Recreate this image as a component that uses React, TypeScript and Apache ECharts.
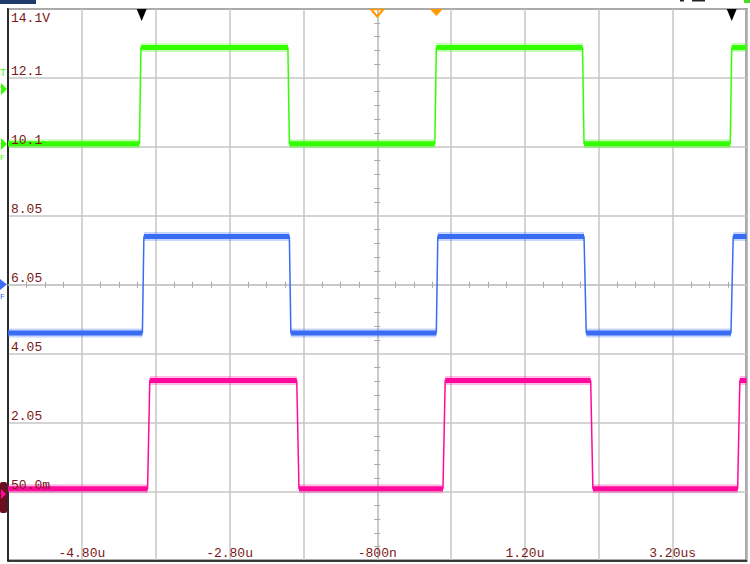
import React, { useEffect, useRef } from "react";
import * as echarts from "echarts";

// Horizontal scale: 1 µs per division, screen centre at -800 ns
const TIME_PER_DIV = 1; // µs
const TIME_CENTER = -0.8; // µs
// Vertical scale: 2 V per division, centre line at 6.05 V
const VOLT_PER_DIV = 2;
const VOLT_CENTER = 6.05;

const xTickLabels = ["", "-4.80u", "", "-2.80u", "", "-800n", "", "1.20u", "", "3.20us", ""];
const yTickLabels = ["", "50.0m", "2.05", "4.05", "6.05", "8.05", "10.1", "12.1", "14.1V"];

// Channel traces: time (µs) and voltage (V) at each corner of the waveform
const greenTime = [-5.8, -4.02, -4.0, -2.01, -1.99, -0.02, 0.0, 1.98, 2.0, 3.98, 4.0, 4.2];
const greenVolt = [10.14, 10.14, 12.93, 12.93, 10.14, 10.14, 12.93, 12.93, 10.14, 10.14, 12.93, 12.93];

const blueTime = [-5.8, -3.98, -3.96, -1.99, -1.97, 0.0, 0.02, 2.0, 2.03, 3.99, 4.02, 4.2];
const blueVolt = [4.65, 4.65, 7.45, 7.45, 4.65, 4.65, 7.45, 7.45, 4.65, 4.65, 7.45, 7.45];

const pinkTime = [-5.8, -3.91, -3.88, -1.89, -1.86, 0.09, 0.12, 2.09, 2.12, 4.08, 4.11, 4.2];
const pinkVolt = [0.13, 0.13, 3.27, 3.27, 0.13, 0.13, 3.27, 3.27, 0.13, 0.13, 3.27, 3.27];

// Markers along the top edge
const cursorTimes = [-3.99, 4.0]; // black ▼
const triggerTime = 0.0; // orange filled ▼
const referenceTime = -0.8; // orange hollow ▽

const GREEN = "#33ff00";
const BLUE = "#3a6cf4";
const PINK = "#ff0a9c";
const GRID = "#c6c6c6";
const LABEL = "#7a1818";
const FONT = "Liberation Mono, DejaVu Sans Mono, monospace";

const toX = (t: number) => (t - TIME_CENTER) / TIME_PER_DIV;
const toY = (v: number) => (v - VOLT_CENTER) / VOLT_PER_DIV;

function tracePoints(ts: number[], vs: number[]) {
  return ts.map((t, i) => [toX(t), toY(vs[i])]);
}

function plateauPoints(ts: number[], vs: number[]) {
  const out: any[] = [];
  for (let i = 0; i < ts.length - 1; i++) {
    if (vs[i] === vs[i + 1]) {
      out.push([toX(ts[i]), toY(vs[i])]);
      out.push([toX(ts[i + 1]), toY(vs[i + 1])]);
      out.push(null);
    }
  }
  return out;
}

function channelSeries(name: string, ts: number[], vs: number[], color: string, extra: any = {}) {
  return [
    {
      name: name + "-noise",
      type: "line",
      data: plateauPoints(ts, vs),
      showSymbol: false,
      connectNulls: false,
      lineStyle: { color, width: 9, opacity: 0.28, cap: "butt" },
      silent: true,
      z: 2,
    },
    {
      name: name + "-band",
      type: "line",
      data: plateauPoints(ts, vs),
      showSymbol: false,
      connectNulls: false,
      lineStyle: { color, width: 5, cap: "butt" },
      silent: true,
      z: 3,
    },
    {
      name,
      type: "line",
      data: tracePoints(ts, vs),
      showSymbol: false,
      lineStyle: { color, width: 1.5 },
      silent: true,
      z: 4,
      ...extra,
    },
  ];
}

const crossAxisBase = {
  type: "value",
  min: -5,
  max: 5,
  interval: 1,
  axisLabel: { show: false },
  splitLine: { show: false },
};

export default function App() {
  const ref = useRef<HTMLDivElement>(null);

  useEffect(() => {
    if (!ref.current) return;
    const chart = echarts.init(ref.current, null, { renderer: "svg" });

    const markers = {
      silent: true,
      label: { show: false },
      animation: false,
      data: [
        ...cursorTimes.map((t) => ({
          coord: [toX(t), 4],
          symbol: "triangle",
          symbolRotate: 180,
          symbolSize: [10, 12],
          symbolOffset: [0, 6],
          itemStyle: { color: "#000000" },
        })),
        {
          coord: [toX(triggerTime), 4],
          symbol: "path://M0,0 L13,0 L6.5,7 Z",
          symbolSize: [13, 7],
          symbolOffset: [0, 3.5],
          itemStyle: { color: "#ff9a00" },
        },
        {
          coord: [toX(referenceTime), 4],
          symbol: "path://M0,0 L13,0 L6.5,7 Z",
          symbolSize: [12, 7],
          symbolOffset: [0, 4],
          itemStyle: { color: "rgba(0,0,0,0)", borderColor: "#ff9a00", borderWidth: 2 },
        },
      ],
    };

    const option: any = {
      animation: false,
      backgroundColor: "#ffffff",
      grid: {
        left: 8,
        top: 9,
        right: 3.5,
        bottom: 3.5,
        containLabel: false,
        outerBoundsMode: "none",
        show: true,
        borderColor: "#5a5a5a",
        borderWidth: 2,
        backgroundColor: "#ffffff",
      },
      xAxis: [
        {
          type: "value",
          min: -5,
          max: 5,
          interval: 1,
          position: "bottom",
          axisLine: { show: true, onZero: false, lineStyle: { color: "#111111", width: 1.5 } },
          axisTick: { show: false },
          splitLine: { show: true, lineStyle: { color: GRID, width: 1.5 } },
          axisLabel: {
            show: true,
            inside: true,
            margin: 1,
            verticalAlign: "bottom",
            color: LABEL,
            fontFamily: FONT,
            fontSize: 13,
            formatter: (v: number) => xTickLabels[Math.round(v + 5)] ?? "",
          },
        },
        {
          ...crossAxisBase,
          position: "bottom",
          axisLine: { show: true, onZero: true, onZeroAxisIndex: 0, lineStyle: { color: GRID, width: 1.5 } },
          axisTick: { show: false, inside: false },
          minorTick: { show: true, splitNumber: 4, length: 3, lineStyle: { color: "#a8a8a8", width: 1 } },
        },
        {
          ...crossAxisBase,
          position: "bottom",
          axisLine: { show: false, onZero: true, onZeroAxisIndex: 0 },
          axisTick: { show: false, inside: true },
          minorTick: { show: true, splitNumber: 4, length: 3, lineStyle: { color: "#a8a8a8", width: 1 } },
        },
      ],
      yAxis: [
        {
          type: "value",
          min: -4,
          max: 4,
          interval: 1,
          position: "left",
          axisLine: { show: true, onZero: false, lineStyle: { color: "#000000", width: 1.5 } },
          axisTick: { show: false },
          axisLabel: { show: false },
          splitLine: { show: true, lineStyle: { color: GRID, width: 1.5 } },
        },
        {
          ...crossAxisBase,
          min: -4,
          max: 4,
          position: "left",
          axisLine: { show: true, onZero: true, onZeroAxisIndex: 0, lineStyle: { color: GRID, width: 1.5 } },
          axisTick: { show: false, inside: false },
          minorTick: { show: true, splitNumber: 5, length: 3, lineStyle: { color: "#a8a8a8", width: 1 } },
        },
        {
          ...crossAxisBase,
          min: -4,
          max: 4,
          position: "left",
          axisLine: { show: false, onZero: true, onZeroAxisIndex: 0 },
          axisTick: { show: false, inside: true },
          minorTick: { show: true, splitNumber: 5, length: 3, lineStyle: { color: "#a8a8a8", width: 1 } },
        },
        {
          type: "value",
          min: -4,
          max: 4,
          interval: 1,
          position: "left",
          z: 10,
          axisLine: { show: false, onZero: false },
          axisTick: { show: false },
          splitLine: { show: false },
          axisLabel: {
            show: true,
            inside: true,
            margin: 3,
            verticalAlign: "bottom",
            color: LABEL,
            fontFamily: FONT,
            fontSize: 13,
            formatter: (v: number) => {
              const i = Math.round(v + 4);
              return i >= yTickLabels.length - 1 ? "" : yTickLabels[i];
            },
          },
        },
        {
          type: "value",
          min: -4,
          max: 4,
          interval: 1,
          position: "left",
          z: 10,
          axisLine: { show: false, onZero: false },
          axisTick: { show: false },
          splitLine: { show: false },
          axisLabel: {
            show: true,
            inside: true,
            margin: 3,
            verticalAlign: "top",
            color: LABEL,
            fontFamily: FONT,
            fontSize: 13,
            padding: [3, 0, 0, 0],
            formatter: (v: number) => {
              const i = Math.round(v + 4);
              return i === yTickLabels.length - 1 ? yTickLabels[i] : "";
            },
          },
        },
      ],
      series: [
        ...channelSeries("CH1", greenTime, greenVolt, GREEN, { markPoint: markers }),
        ...channelSeries("CH2", blueTime, blueVolt, BLUE),
        ...channelSeries("CH3", pinkTime, pinkVolt, PINK),
      ],
      graphic: [
        { type: "rect", shape: { x: 0, y: 0, width: 36, height: 4 }, style: { fill: "#1d3c6c" } },
        { type: "rect", shape: { x: 680, y: 0, width: 4, height: 1.5 }, style: { fill: "#222" } },
        { type: "rect", shape: { x: 692, y: 0, width: 13, height: 1.5 }, style: { fill: "#222" } },
        { type: "rect", shape: { x: 744, y: 0, width: 6, height: 3 }, style: { fill: "#44dd22" } },
        // CH1 markers
        { type: "text", x: 0, y: 68, style: { text: "T", fill: GREEN, font: "10px " + FONT } },
        { type: "polygon", shape: { points: [[1, 83], [7, 89], [1, 95]] }, style: { fill: GREEN } },
        { type: "polygon", shape: { points: [[1, 138], [7, 144], [1, 150]] }, style: { fill: GREEN } },
        { type: "text", x: 0, y: 153, style: { text: "F", fill: GREEN, font: "8px " + FONT } },
        // CH2 marker
        { type: "polygon", shape: { points: [[0, 279], [7, 284.5], [0, 290]] }, style: { fill: BLUE } },
        { type: "text", x: 0, y: 292, style: { text: "F", fill: BLUE, font: "8px " + FONT } },
        // CH3 marker
        { type: "rect", shape: { x: 0, y: 482, width: 7, height: 31, r: 2 }, style: { fill: "#6a0d1e" } },
        { type: "polygon", shape: { points: [[1, 489], [6, 494], [1, 499]] }, style: { fill: PINK } },
      ],
    };

    chart.setOption(option);
    return () => chart.dispose();
  }, []);

  return (
    <div
      ref={ref}
      style={{ position: "absolute", left: 0, top: 0, width: 750, height: 564, background: "#fff" }}
    />
  );
}
